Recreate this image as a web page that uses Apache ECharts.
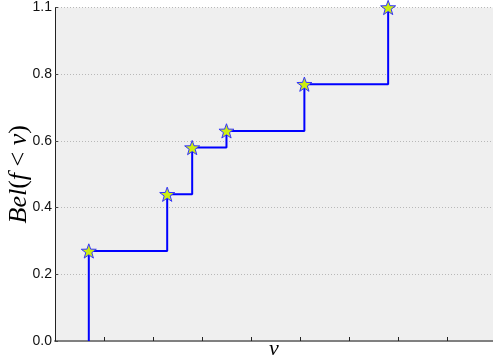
<!DOCTYPE html>
<html>
<head>
<meta charset="utf-8">
<style>
  html, body { margin: 0; padding: 0; background: #ffffff; }
  #chart { width: 493px; height: 358px; }
</style>
<script src="https://cdn.jsdelivr.net/npm/echarts@6/dist/echarts.min.js"></script>
</head>
<body>
<div id="chart"></div>
<script>
// Step positions along ν (in tick units) and the belief value reached at each step
const nuSteps = [0.69, 2.29, 2.80, 3.50, 5.09, 6.80];
const belValues = [0.27, 0.44, 0.58, 0.63, 0.77, 1.0];
// Tick labels on the belief axis
const yTickLabels = ['0.0', '0.2', '0.4', '0.6', '0.8', '1.1'];

// Staircase: rise from zero at the first step, then one horizontal run + rise per step
const linePoints = [[nuSteps[0], 0]];
nuSteps.forEach((x, i) => linePoints.push([x, belValues[i]]));
const starPoints = nuSteps.map((x, i) => [x, belValues[i]]);

const starPath = 'path://M50,0 L61.76,33.82 L97.55,34.55 L69.02,56.18 L79.39,90.45 L50,70 L20.61,90.45 L30.98,56.18 L2.45,34.55 L38.24,33.82 Z';

const chart = echarts.init(document.getElementById('chart'));
chart.setOption({
  animation: false,
  grid: {
    left: 55, right: 0, top: 7.5, bottom: 17,
    containLabel: false,
    outerBoundsMode: 'none',
    show: true, backgroundColor: '#efefef', borderWidth: 0
  },
  xAxis: {
    type: 'value',
    min: 0, max: 8.94, interval: 1,
    name: 'ν',
    nameLocation: 'middle',
    nameGap: 8,
    nameMoveOverlap: false,
    nameTextStyle: { fontFamily: 'Liberation Serif', fontStyle: 'italic', fontSize: 22, color: '#000', verticalAlign: 'middle' },
    axisLine: { lineStyle: { color: '#808080', width: 2 } },
    axisTick: { inside: true, length: 4, lineStyle: { color: '#222', width: 1 } },
    axisLabel: { show: false },
    splitLine: { show: false }
  },
  yAxis: {
    type: 'value',
    min: 0, max: 1.0, interval: 0.2,
    name: '{i|Bel}{r|(}{i|f}{r| < }{i|ν}{r|)}',
    nameLocation: 'middle',
    nameRotate: 90,
    nameGap: 36,
    nameMoveOverlap: false,
    nameTextStyle: {
      verticalAlign: 'middle',
      rich: {
        i: { fontFamily: 'Liberation Serif', fontStyle: 'italic', fontSize: 26, color: '#000' },
        r: { fontFamily: 'Liberation Serif', fontSize: 26, color: '#000' }
      }
    },
    axisLine: { show: true, lineStyle: { color: '#222', width: 1 } },
    axisTick: { show: true, inside: true, length: 3, lineStyle: { color: '#444' } },
    axisLabel: {
      fontFamily: 'Liberation Sans', fontSize: 14, color: '#111', margin: 3,
      formatter: (v, i) => yTickLabels[i]
    },
    splitLine: { show: true, lineStyle: { color: '#b8b8b8', type: [1, 2], width: 1 } }
  },
  series: [
    {
      type: 'line',
      data: linePoints,
      step: 'end',
      showSymbol: false,
      lineStyle: { color: '#0000ff', width: 2 },
      z: 2
    },
    {
      type: 'scatter',
      data: starPoints,
      symbol: starPath,
      symbolSize: 15,
      symbolKeepAspect: true,
      itemStyle: { color: '#ccee11', borderColor: '#3333ff', borderWidth: 1, opacity: 1 },
      z: 3
    }
  ]
});
</script>
</body>
</html>
